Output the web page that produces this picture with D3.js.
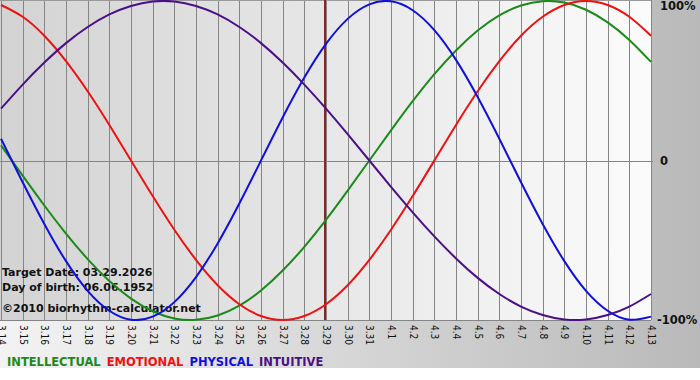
<!DOCTYPE html>
<html>
<head>
<meta charset="utf-8">
<script src="https://cdn.jsdelivr.net/npm/d3@7"></script>
<style>
  html, body { margin: 0; padding: 0; background: #ffffff; }
  svg { display: block; }
  text { font-family: Tahoma, "DejaVu Sans", sans-serif; }
</style>
</head>
<body>
<div id="chart"></div>
<script>
// days shown on the x axis (month.day)
var dayLabels = ["3.14","3.15","3.16","3.17","3.18","3.19","3.20","3.21","3.22","3.23",
    "3.24","3.25","3.26","3.27","3.28","3.29","3.30","3.31","4.1","4.2",
    "4.3","4.4","4.5","4.6","4.7","4.8","4.9","4.10","4.11","4.12","4.13"];

// cycle values per day, -1 .. 1
var intellectual = [0.095,-0.095,-0.282,-0.458,-0.618,-0.756,-0.866,-0.945,-0.990,-0.999,
    -0.972,-0.910,-0.815,-0.690,-0.541,-0.372,-0.189,0,0.189,0.372,
    0.541,0.690,0.815,0.910,0.972,0.999,0.990,0.945,0.866,0.756,0.618];
var emotional = [0.975,0.901,0.782,0.623,0.434,0.223,0,-0.223,-0.434,-0.623,
    -0.782,-0.901,-0.975,-1,-0.975,-0.901,-0.782,-0.623,-0.434,-0.223,
    0,0.223,0.434,0.623,0.782,0.901,0.975,1,0.975,0.901,0.782];
var physical = [0.136,-0.136,-0.398,-0.631,-0.817,-0.942,-0.998,-0.979,-0.888,-0.731,
    -0.520,-0.270,0,0.270,0.520,0.731,0.888,0.979,0.998,0.942,
    0.817,0.631,0.398,0.136,-0.136,-0.398,-0.631,-0.817,-0.942,-0.998,-0.979];
var intuitive = [0.325,0.476,0.614,0.736,0.837,0.916,0.969,0.997,0.997,0.969,
    0.916,0.837,0.736,0.614,0.476,0.325,0.165,0,-0.165,-0.325,
    -0.476,-0.614,-0.736,-0.837,-0.916,-0.969,-0.997,-0.997,-0.969,-0.916,-0.837];

var targetDay = "3.29";
var infoLines = ["Target Date: 03.29.2026", "Day of birth: 06.06.1952", "\u00a92010 biorhythm-calculator.net"];
var yLabels = [[1, "100%"], [0, "0"], [-1, "-100%"]];

var seriesNames = ["INTELLECTUAL", "EMOTIONAL", "PHYSICAL", "INTUITIVE"];
var seriesColors = ["#1b8a1b", "#ee1111", "#1010dd", "#4b0f87"];
var seriesData = [intellectual, emotional, physical, intuitive];

var width = 700, height = 380;
var plot = { left: 0, right: 651, top: 1, bottom: 320 };

var svg = d3.select("#chart").append("svg")
    .attr("width", width)
    .attr("height", height);

var defs = svg.append("defs");

//outer gradient, light on the left, darker on the right
var outerGrad = defs.append("linearGradient").attr("id", "outerGrad");
outerGrad.append("stop").attr("offset", "0%").attr("stop-color", "#f3f3f3");
outerGrad.append("stop").attr("offset", "100%").attr("stop-color", "#b9b9b9");

//plot gradient goes the other way
var plotGrad = defs.append("linearGradient").attr("id", "plotGrad");
plotGrad.append("stop").attr("offset", "0%").attr("stop-color", "#d3d3d3");
plotGrad.append("stop").attr("offset", "100%").attr("stop-color", "#fbfbfb");

defs.append("clipPath").attr("id", "plotClip")
    .append("rect")
    .attr("x", plot.left).attr("y", 0)
    .attr("width", plot.right - plot.left + 1).attr("height", plot.bottom + 1);

svg.append("rect")
    .attr("width", width).attr("height", 368)
    .attr("fill", "url(#outerGrad)");

svg.append("rect")
    .attr("x", plot.left).attr("y", 0)
    .attr("width", plot.right - plot.left).attr("height", plot.bottom)
    .attr("fill", "url(#plotGrad)");

var x = d3.scaleLinear()
    .domain([0, dayLabels.length - 1])
    .range([plot.left + 1, plot.right]);

var y = d3.scaleLinear()
    .domain([-1, 1])
    .range([plot.bottom, plot.top]);

//vertical day lines
svg.append("g")
    .selectAll("line")
    .data(dayLabels)
    .join("line")
    .attr("x1", (d, i) => Math.round(x(i)) + 0.5)
    .attr("x2", (d, i) => Math.round(x(i)) + 0.5)
    .attr("y1", 0)
    .attr("y2", plot.bottom)
    .attr("stroke", "#858585")
    .attr("stroke-width", 1);

//zero line and frame
svg.append("line")
    .attr("x1", 0).attr("x2", plot.right + 2)
    .attr("y1", Math.round(y(0)) + 0.5).attr("y2", Math.round(y(0)) + 0.5)
    .attr("stroke", "#858585");
svg.append("line")
    .attr("x1", 0).attr("x2", plot.right)
    .attr("y1", 0.5).attr("y2", 0.5)
    .attr("stroke", "#9a9a9a");
svg.append("line")
    .attr("x1", 0).attr("x2", plot.right)
    .attr("y1", plot.bottom + 0.5).attr("y2", plot.bottom + 0.5)
    .attr("stroke", "#858585");

//target day marker
var ti = dayLabels.indexOf(targetDay);
svg.append("line")
    .attr("x1", Math.round(x(ti)) - 1).attr("x2", Math.round(x(ti)) - 1)
    .attr("y1", 0).attr("y2", plot.bottom)
    .attr("stroke", "#8a2525")
    .attr("stroke-width", 2);

//x axis with rotated labels
var xAxis = d3.axisBottom(x)
    .tickValues(d3.range(dayLabels.length))
    .tickFormat(i => dayLabels[i])
    .tickSize(0);

var axisG = svg.append("g")
    .attr("transform", `translate(0, ${plot.bottom})`)
    .call(xAxis);
axisG.select(".domain").remove();
axisG.selectAll("text")
    .attr("transform", "rotate(90)")
    .attr("x", 5)
    .attr("y", 0)
    .attr("dy", "0.35em")
    .style("text-anchor", "start")
    .style("font-size", "10px")
    .style("font-family", "'DejaVu Sans Condensed', 'DejaVu Sans', sans-serif")
    .attr("fill", "#111");

//info text in lower left
svg.append("g")
    .selectAll("text")
    .data(infoLines)
    .join("text")
    .attr("x", 2)
    .attr("y", (d, i) => [276, 291, 312][i])
    .attr("font-size", "11px")
    .attr("font-weight", "bold")
    .attr("fill", "#111")
    .text(d => d);

//right side percent labels
svg.append("g")
    .selectAll("text")
    .data(yLabels)
    .join("text")
    .attr("x", d => d[0] === -1 ? 657 : 660)
    .attr("y", d => y(d[0]))
    .attr("dy", d => d[0] === 1 ? "0.75em" : "0.35em")
    .attr("font-size", "11.5px")
    .attr("font-weight", "bold")
    .attr("fill", "#111")
    .text(d => d[1]);

//cycle lines
var line = d3.line()
    .x((d, i) => x(i))
    .y(d => y(d))
    .curve(d3.curveNatural);

svg.append("g")
    .attr("clip-path", "url(#plotClip)")
    .selectAll("path")
    .data(seriesData)
    .join("path")
    .attr("d", d => line(d))
    .attr("fill", "none")
    .attr("stroke", (d, i) => seriesColors[i])
    .attr("stroke-width", 2);

//legend
var legendX = 7;
seriesNames.forEach((name, i) => {
    var t = svg.append("text")
        .attr("x", legendX)
        .attr("y", 366)
        .attr("font-size", "11.5px")
        .attr("font-weight", "bold")
        .attr("fill", seriesColors[i])
        .text(name);
    legendX += t.node().getComputedTextLength() + 6;
});
</script>
</body>
</html>
